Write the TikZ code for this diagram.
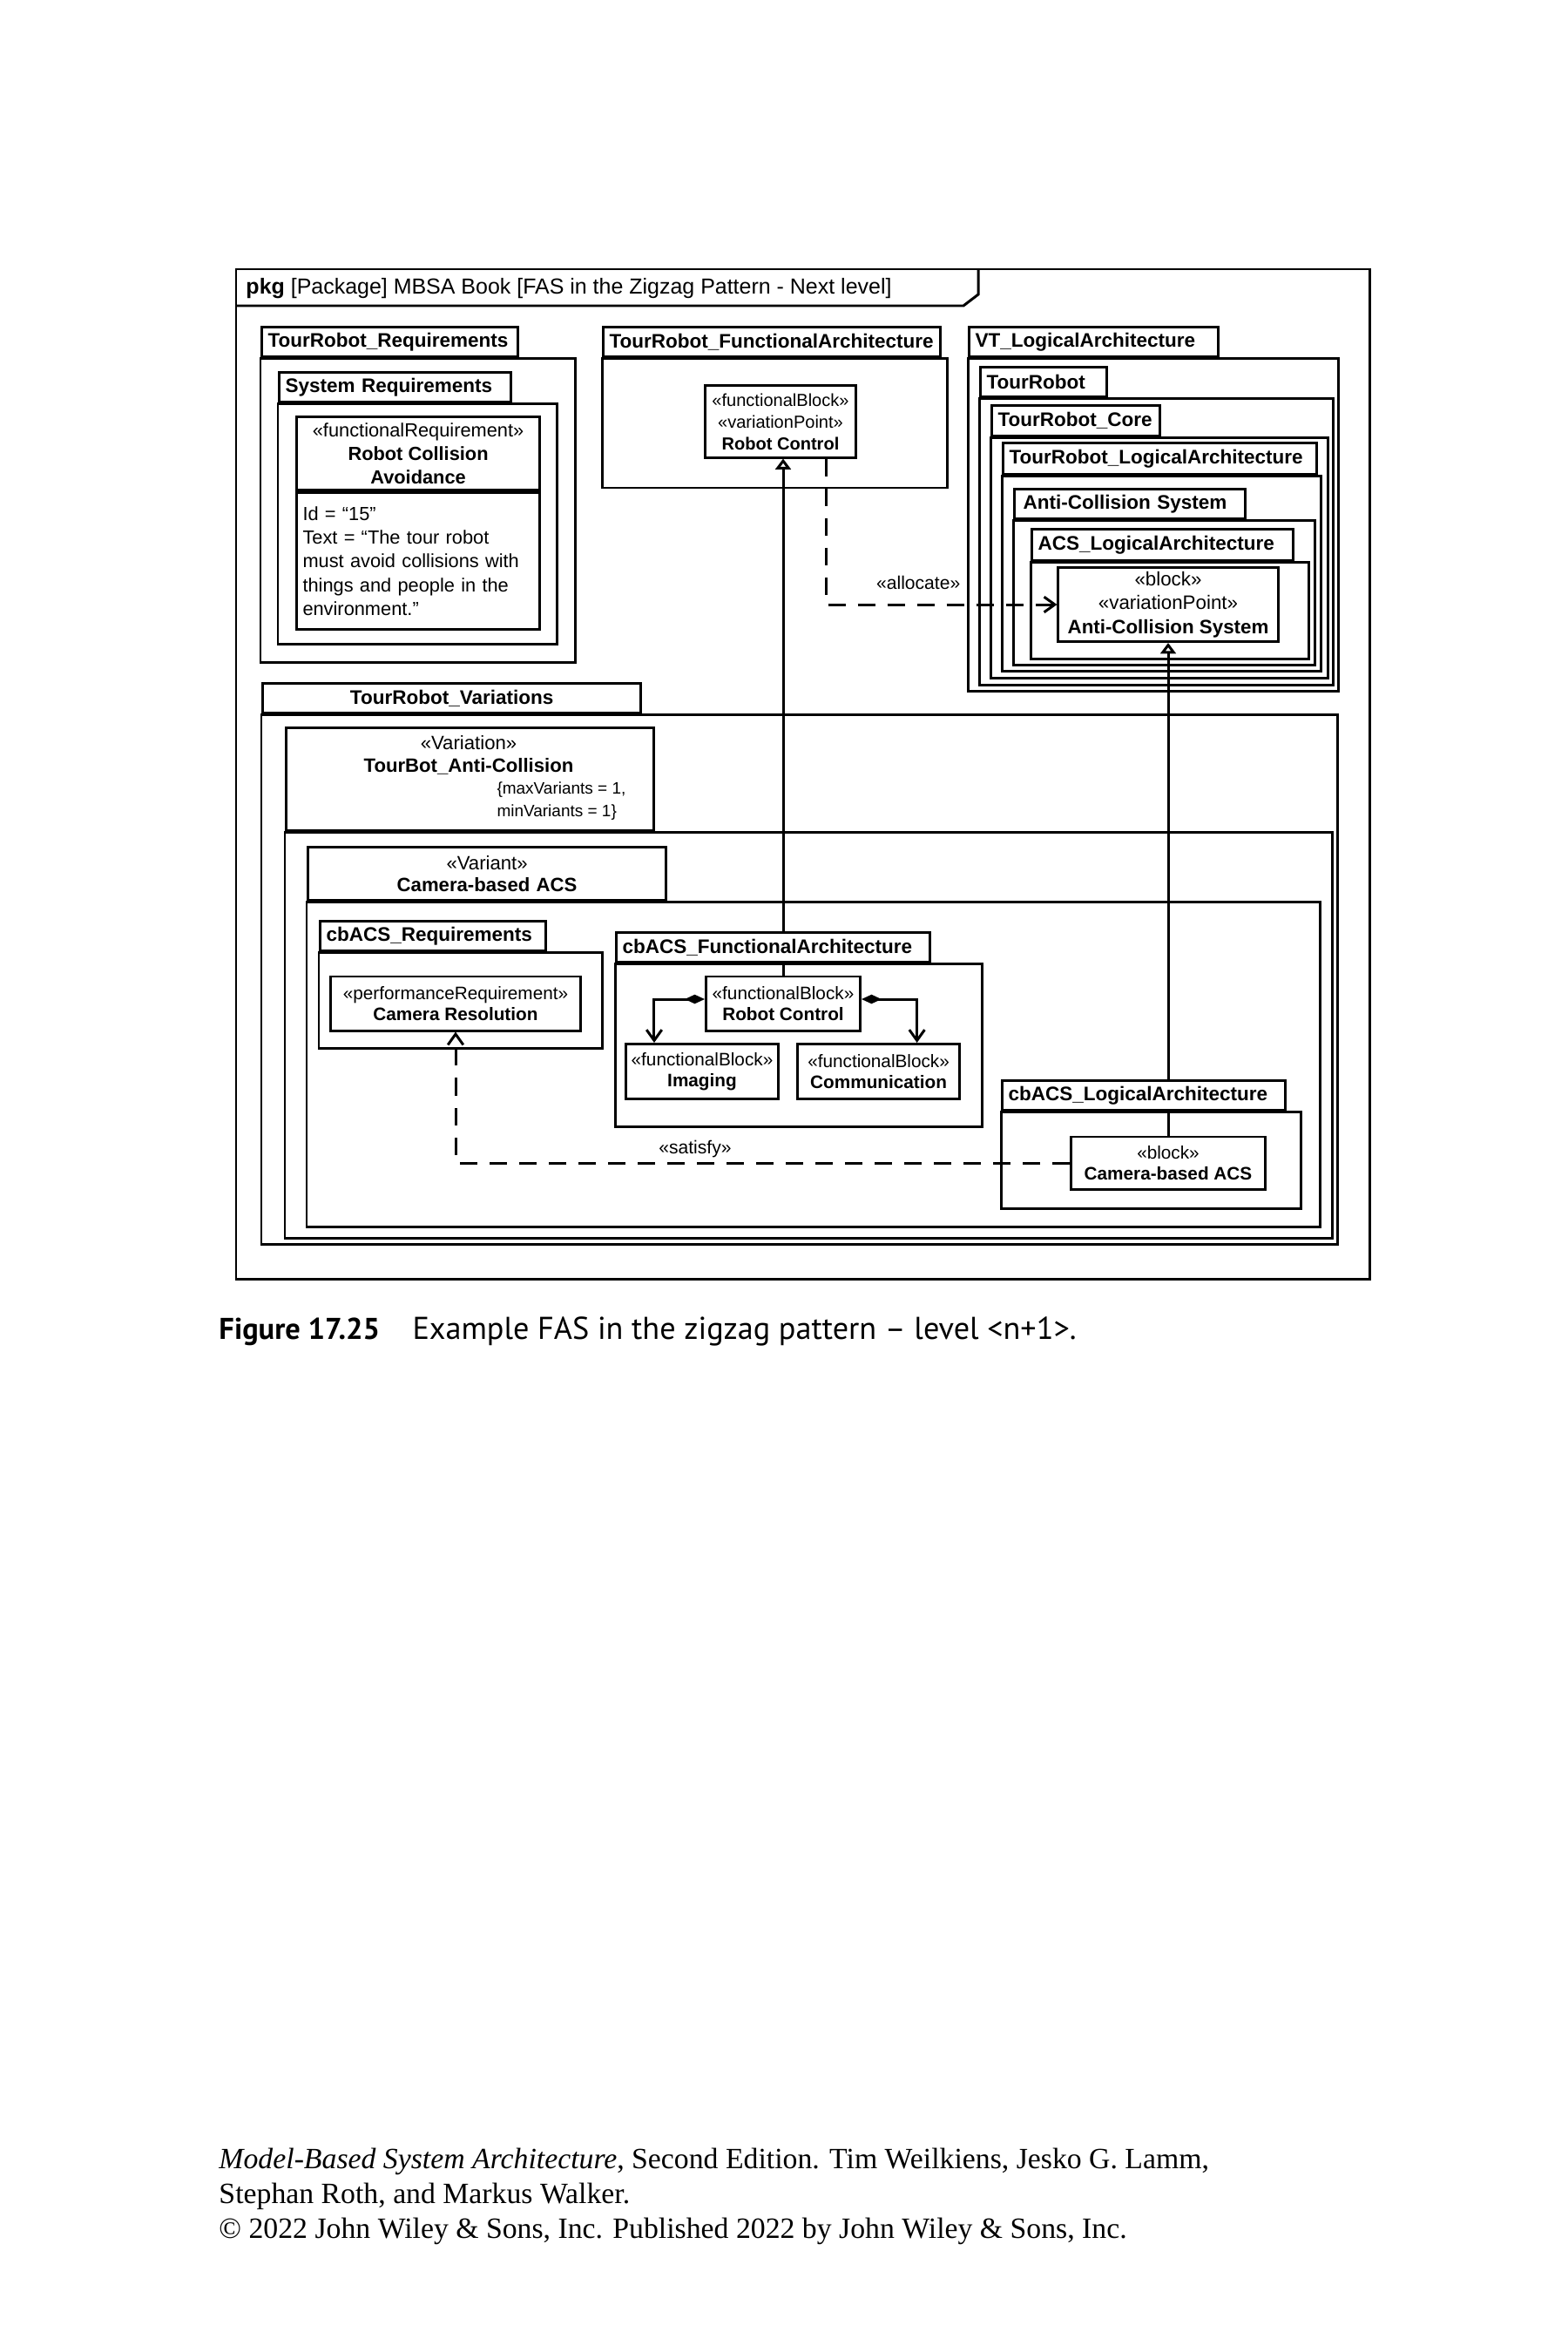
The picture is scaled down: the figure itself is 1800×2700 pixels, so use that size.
\documentclass[tikz,border=0pt]{standalone}
\usepackage{fontspec}
\setmainfont{Liberation Sans}
\newfontfamily\capfam{PT Sans}
\newfontfamily\bookfam{Liberation Serif}
\usetikzlibrary{positioning,arrows.meta}

\newcommand{\tabtxt}{\fontsize{6.4}{7.7}\selectfont\bfseries}
\newcommand{\hdrtxt}{\fontsize{7.1}{8.5}\selectfont}
\newcommand{\blktxt}{\fontsize{5.9}{7}\selectfont}
\newcommand{\reqtxt}{\fontsize{6.2}{7.75}\selectfont}
\newcommand{\vptxt}{\fontsize{5.7}{7.1}\selectfont}
\newcommand{\acstxt}{\fontsize{6.35}{7.8}\selectfont}
\newcommand{\vartxt}{\fontsize{6.3}{7.3}\selectfont}
\newcommand{\cnstxt}{\fontsize{5.4}{7.4}\selectfont}
\newcommand{\lbltxt}{\fontsize{6}{7.2}\selectfont}
\newcommand{\capbold}{\capfam\bfseries\fontsize{9.8}{11.8}\selectfont}
\newcommand{\capreg}{\capfam\fontsize{10.3}{12.4}\selectfont}
\newcommand{\foottxt}{\bookfam\fontsize{9.6}{11.6}\selectfont}

\begin{document}
\begin{tikzpicture}[
  x=0.01cm, y=-0.01cm, line width=0.85pt,
  >={Straight Barb[length=3.5pt,width=5pt]},
  tab/.style={draw,fill=white,anchor=north west,inner xsep=0.07cm,inner ysep=0pt,minimum height=0.34cm,align=left,font=\tabtxt},
  blk/.style={draw,fill=white,align=center,inner sep=0pt,font=\blktxt},
  lbl/.style={font=\lbltxt,inner sep=1pt},
  dep/.style={->,dash pattern=on 0.2cm off 0.14cm},
  gen/.style={-{Triangle[open,length=3.5pt,width=5pt]}},
  comp/.style={{Diamond[length=6.5pt,width=3pt]}->}
]
\path[use as bounding box,fill=white] (0,0) rectangle (1800,2700);

% diagram frame
\draw (271,309) rectangle (1572,1468);
\draw (271,351) -- (1106,351) -- (1123,338) -- (1123,309);
\node[anchor=west,inner sep=0pt,font=\hdrtxt] (hdr) at (281,331) {\textbf{pkg} [Package] MBSA Book [FAS in the Zigzag Pattern - Next level]};

% blocks
\node[blk,anchor=north west,minimum width=2.79cm,minimum height=0.84cm,font=\reqtxt] (reqT) at (339,477) {«functionalRequirement»\\\textbf{Robot Collision}\\\textbf{Avoidance}};
\node[blk,anchor=north west,minimum height=1.57cm,text width=2.65cm,inner xsep=0.07cm,align=left,font=\reqtxt] (reqA) at (reqT.south west) {Id = “15”\\Text = “The tour robot\\must avoid collisions with\\things and people in the\\environment.”};
\node[blk,minimum width=1.73cm,minimum height=0.82cm,font=\vptxt] (vpRC) at (896,484) {«functionalBlock»\\«variationPoint»\\\textbf{Robot Control}};
\node[blk,minimum width=2.52cm,minimum height=0.85cm,font=\acstxt] (acsBlk) at (1341,694) {«block»\\«variationPoint»\\\textbf{Anti-Collision System}};
\node[blk,minimum width=2.87cm,minimum height=0.62cm] (camRes) at (523,1152) {«performanceRequirement»\\\textbf{Camera Resolution}};
\node[blk,minimum width=1.77cm,minimum height=0.62cm] (cbRC) at (899,1152) {«functionalBlock»\\\textbf{Robot Control}};
\node[blk,minimum width=1.75cm,minimum height=0.63cm] (imaging) at (806,1230) {«functionalBlock»\\\textbf{Imaging}};
\node[blk,minimum width=1.86cm,minimum height=0.63cm,right=0.19cm of imaging] (comm) {«functionalBlock»\\\textbf{Communication}};
\node[blk,minimum width=2.23cm,minimum height=0.60cm] (camBlk) at (1341,1335) {«block»\\\textbf{Camera-based ACS}};

% relations
\draw[gen] (cbRC.north) -- (cbRC.north |- vpRC.south);
\draw[gen] (camBlk.north) -- (camBlk.north |- acsBlk.south);
\draw[dep] ([xshift=0.52cm]vpRC.south) |- node[lbl,pos=0.7,above=0.12cm] (allocLbl) {«allocate»} (acsBlk.west);
\draw[dep] (camBlk.west) -| node[lbl,pos=0.305,above=0.01cm] (satLbl) {«satisfy»} (camRes.south);
\draw[comp] ([yshift=0.05cm]cbRC.west) -| ([xshift=-0.55cm]imaging.north);
\draw[comp] ([yshift=0.05cm]cbRC.east) -| ([xshift=0.44cm]comm.north);

% packages
\node[tab,text width=2.80cm] (trqT) at (299,374) {TourRobot\_Requirements};
\draw (trqT.south west) rectangle (660,760);
\node[tab,text width=2.52cm] (sysT) at (319,426) {System Requirements};
\draw (sysT.south west) rectangle (639,739);
\node[tab,text width=3.73cm] (tfaT) at (691,374) {TourRobot\_FunctionalArchitecture};
\draw (tfaT.south west) rectangle (1087,560);
\node[tab,text width=2.72cm] (vtT) at (1111,374) {VT\_LogicalArchitecture};
\draw (vtT.south west) rectangle (1536,793);
\node[tab,text width=1.31cm] (trT) at (1124,420) {TourRobot};
\draw (trT.south west) rectangle (1530,786);
\node[tab,text width=1.79cm,minimum height=0.35cm] (coreT) at (1137,464) {TourRobot\_Core};
\draw (coreT.south west) rectangle (1524,778);
\node[tab,text width=3.46cm,minimum height=0.36cm] (trlaT) at (1150,507) {TourRobot\_LogicalArchitecture};
\draw (trlaT.south west) rectangle (1516,770);
\node[tab,text width=2.45cm,inner xsep=0.1cm] (acsT) at (1163,560) {Anti-Collision System};
\draw (acsT.south west) rectangle (1509,763);
\node[tab,text width=2.86cm,minimum height=0.36cm] (acslaT) at (1183,606) {ACS\_LogicalArchitecture};
\draw (acslaT.south west) rectangle (1502,756);

\node[tab,text width=4.20cm,align=center] (trvT) at (300,783) {TourRobot\_Variations};
\draw (trvT.south west) rectangle (1535,1428);
\node[tab,minimum width=4.22cm,minimum height=1.18cm] (varT) at (327,834) {};
\draw (varT.south west) rectangle (1529,1421);
\node[font=\vartxt,align=center] (varN) at (538,867) {«Variation»\\\textbf{TourBot\_Anti-Collision}};
\node[font=\cnstxt,align=left,anchor=west,inner sep=0pt] (varC) at (569,920) {\{maxVariants = 1,\\minVariants = 1\}};
\node[tab,text width=3.97cm,minimum height=0.61cm,align=center,font=\vartxt] (vntT) at (352,971) {«Variant»\\\textbf{Camera-based ACS}};
\draw (vntT.south west) rectangle (1515,1408);
\node[tab,text width=2.45cm] (cbrqT) at (366,1056) {cbACS\_Requirements};
\draw (cbrqT.south west) rectangle (691,1203);
\node[tab,text width=3.46cm] (cbfaT) at (706,1069) {cbACS\_FunctionalArchitecture};
\draw (cbfaT.south west) rectangle (1127,1293);
\node[tab,text width=3.11cm] (cblaT) at (1149,1239) {cbACS\_LogicalArchitecture};
\draw (cblaT.south west) rectangle (1493,1387);

% caption and footer
\node[anchor=base west,inner sep=0pt,font=\capbold] (figNo) at (250,1537) {Figure 17.25};
\node[anchor=base west,inner sep=0pt,font=\capreg] (figCap) at (472,1537) {Example FAS in the zigzag pattern – level <n+1>.};
\node[anchor=base west,inner sep=0pt,font=\foottxt] (foot1) at (250,2489) {\textit{Model-Based System Architecture}, Second Edition. Tim Weilkiens, Jesko G. Lamm,};
\node[anchor=base west,inner sep=0pt,font=\foottxt] (foot2) at (250,2529) {Stephan Roth, and Markus Walker.};
\node[anchor=base west,inner sep=0pt,font=\foottxt] (foot3) at (250,2569) {© 2022 John Wiley \& Sons, Inc. Published 2022 by John Wiley \& Sons, Inc.};
\end{tikzpicture}
\end{document}
